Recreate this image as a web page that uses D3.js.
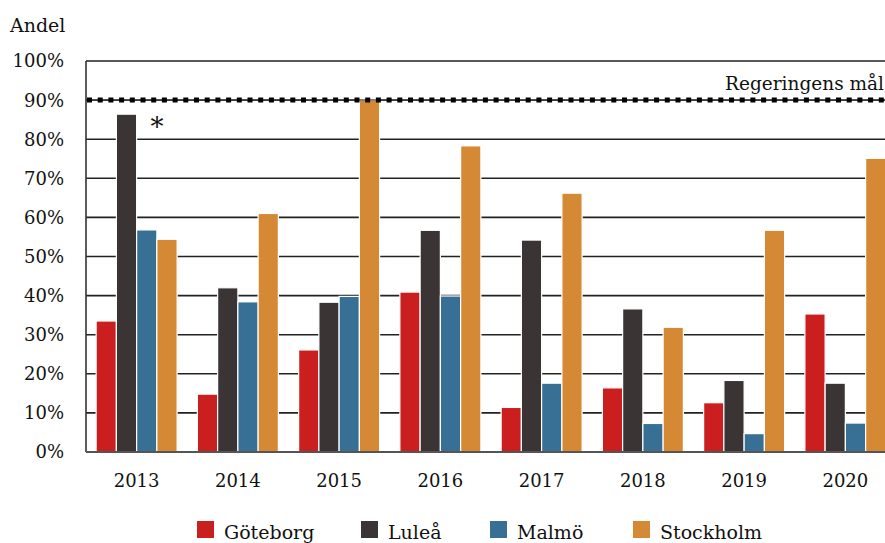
<!DOCTYPE html>
<html>
<head>
<meta charset="utf-8">
<script src="https://cdn.jsdelivr.net/npm/d3@7"></script>
<style>
  body { margin: 0; background: #fff; }
  svg { display: block; font-family: "DejaVu Serif", serif; }
</style>
</head>
<body>
<div id="chart"></div>
<script>
const years = ["2013", "2014", "2015", "2016", "2017", "2018", "2019", "2020"];
const cities = ["Göteborg", "Luleå", "Malmö", "Stockholm"];
const goteborg = [33.5, 14.8, 26.1, 40.9, 11.4, 16.4, 12.6, 35.3];
const lulea = [86.4, 42.0, 38.3, 56.7, 54.2, 36.6, 18.3, 17.6];
const malmo = [56.8, 38.4, 39.8, 39.9, 17.6, 7.3, 4.7, 7.4];
const stockholm = [54.4, 61.0, 90.0, 78.3, 66.2, 31.9, 56.7, 75.1];
const yTicks = [0, 10, 20, 30, 40, 50, 60, 70, 80, 90, 100];
const goal = 90;
const goalLabel = "Regeringens mål";
const colors = ["#cb1f1f", "#3a3435", "#376f95", "#d68935"];

const series = [goteborg, lulea, malmo, stockholm];
const rows = years.map((yr, i) => ({
    year: yr,
    values: cities.map((c, j) => ({ city: c, value: series[j][i] }))
}));

const W = 885, H = 543;
const plot = { left: 86, right: 896, top: 61, bottom: 452 };

const svg = d3.select("#chart").append("svg")
    .attr("width", W)
    .attr("height", H);

const x0 = d3.scaleBand().domain(years).range([plot.left, plot.right])
    .paddingInner(0.2).paddingOuter(0.1);
const x1 = d3.scaleBand().domain(cities).range([0, x0.bandwidth()]);
const y = d3.scaleLinear().domain([0, 100]).range([plot.bottom, plot.top]);
const color = d3.scaleOrdinal().domain(cities).range(colors);

// gridlines
svg.append("g")
    .selectAll("line")
    .data(yTicks.filter(t => t > 0))
    .enter().append("line")
    .attr("x1", plot.left).attr("x2", W)
    .attr("y1", d => y(d)).attr("y2", d => y(d))
    .attr("stroke", "#222")
    .attr("stroke-width", 1.6);

// y tick labels
svg.append("g")
    .selectAll("text")
    .data(yTicks)
    .enter().append("text")
    .attr("x", 64)
    .attr("y", d => y(d))
    .attr("dy", "0.36em")
    .attr("text-anchor", "end")
    .attr("font-size", 18)
    .attr("fill", "#111")
    .text(d => d + "%");

svg.append("text")
    .attr("x", 10).attr("y", 32)
    .attr("font-size", 19)
    .attr("fill", "#111")
    .text("Andel");

// bars
const groups = svg.append("g")
    .selectAll("g")
    .data(rows)
    .enter().append("g")
    .attr("transform", d => `translate(${x0(d.year)},0)`);

groups.selectAll("rect")
    .data(d => d.values)
    .enter().append("rect")
    .attr("x", d => x1(d.city))
    .attr("y", d => y(d.value))
    .attr("width", x1.bandwidth())
    .attr("height", d => y(0) - y(d.value))
    .attr("fill", d => color(d.city))
    .attr("stroke", "#fff")
    .attr("stroke-width", 1.2);

// axes lines
svg.append("line")
    .attr("x1", plot.left).attr("x2", plot.left)
    .attr("y1", plot.top).attr("y2", plot.bottom)
    .attr("stroke", "#333").attr("stroke-width", 1.6);
svg.append("line")
    .attr("x1", plot.left).attr("x2", W)
    .attr("y1", plot.bottom).attr("y2", plot.bottom)
    .attr("stroke", "#555").attr("stroke-width", 2);

// year labels
svg.append("g")
    .selectAll("text")
    .data(years)
    .enter().append("text")
    .attr("x", d => x0(d) + x0.bandwidth() / 2)
    .attr("y", 487)
    .attr("text-anchor", "middle")
    .attr("font-size", 18)
    .attr("fill", "#111")
    .text(d => d);

// goal line
svg.append("line")
    .attr("x1", plot.left).attr("x2", W)
    .attr("y1", y(goal)).attr("y2", y(goal))
    .attr("stroke", "#444").attr("stroke-width", 1);
svg.append("line")
    .attr("x1", plot.left + 1).attr("x2", W)
    .attr("y1", y(goal)).attr("y2", y(goal))
    .attr("stroke", "#000").attr("stroke-width", 5)
    .attr("stroke-dasharray", "5,5.7");
svg.append("text")
    .attr("x", 884).attr("y", y(goal) - 10)
    .attr("text-anchor", "end")
    .attr("font-size", 18.5)
    .attr("fill", "#111")
    .text(goalLabel);

// asterisk on 2013
svg.append("text")
    .attr("x", x0("2013") + x1("Malmö") + x1.bandwidth())
    .attr("y", y(lulea[0]) + 22)
    .attr("text-anchor", "middle")
    .attr("font-size", 26)
    .attr("font-weight", 300)
    .attr("fill", "#111")
    .text("*");

// legend
const legendX = [197, 361, 490, 633];
const legend = svg.append("g")
    .selectAll("g")
    .data(cities)
    .enter().append("g")
    .attr("transform", (d, i) => `translate(${legendX[i]},521)`);
legend.append("rect")
    .attr("width", 17).attr("height", 17)
    .attr("fill", d => color(d));
legend.append("text")
    .attr("x", 27).attr("y", 18)
    .attr("font-size", 19)
    .attr("fill", "#111")
    .text(d => d);
</script>
</body>
</html>
